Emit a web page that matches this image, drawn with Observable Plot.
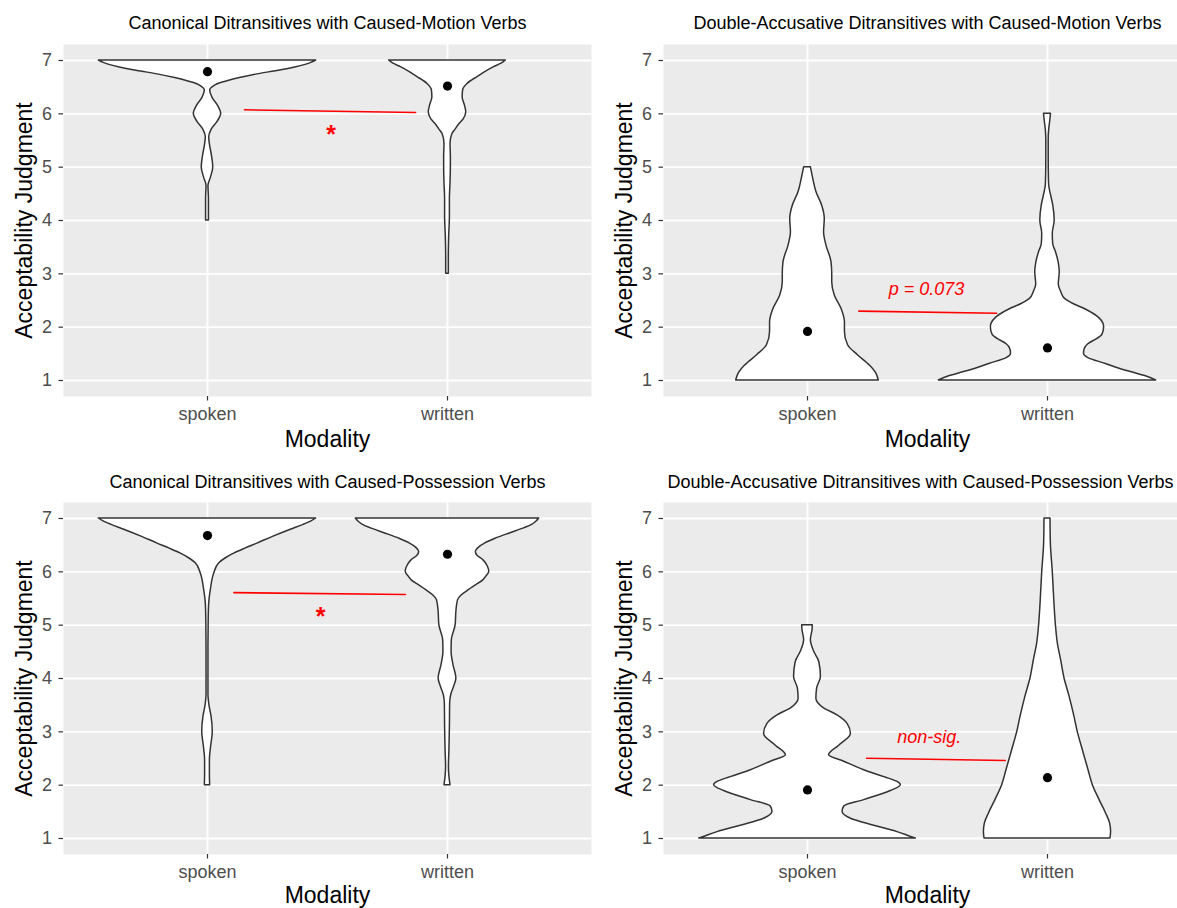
<!DOCTYPE html>
<html>
<head>
<meta charset="utf-8">
<script src="https://cdn.jsdelivr.net/npm/d3@7"></script>
<script src="https://cdn.jsdelivr.net/npm/@observablehq/plot@0.6"></script>
<style>
html, body { margin: 0; padding: 0; background: #ffffff; overflow: hidden; }
#fig { position: relative; width: 1177px; height: 908px; overflow: hidden; background: #ffffff; }
#fig > div { position: absolute; }
#fig svg { max-width: none !important; }
</style>
</head>
<body>
<div id="fig"></div>
<script>
// ---------- data ----------
const modalities = ["spoken", "written"];
const yTicks = [1, 2, 3, 4, 5, 6, 7];
const panelTitles = [
  "Canonical Ditransitives with Caused-Motion Verbs",
  "Double-Accusative Ditransitives with Caused-Motion Verbs",
  "Canonical Ditransitives with Caused-Possession Verbs",
  "Double-Accusative Ditransitives with Caused-Possession Verbs"
];
const xAxisTitle = "Modality";
const yAxisTitle = "Acceptability Judgment";

// violin outlines: [judgment value, half-width in category units]
const cmCanonSpoken = [[7.0,0.453],[6.95,0.43],[6.875,0.37],[6.8,0.285],[6.74,0.208],[6.67,0.135],[6.61,0.083],[6.55,0.04],[6.51,0.025],[6.44,0.011],[6.3,0.021],[6.15,0.044],[6.0,0.057],[5.85,0.042],[5.7,0.017],[5.56,0.007],[5.4,0.011],[5.2,0.019],[5.0,0.024],[4.8,0.014],[4.65,0.004],[4.4,0.006],[4.2,0.006],[4.0,0.006]];
const cmCanonWritten = [[7.0,0.243],[6.94,0.225],[6.875,0.194],[6.75,0.146],[6.69,0.125],[6.56,0.083],[6.44,0.065],[6.31,0.063],[6.15,0.073],[6.03,0.078],[5.9,0.068],[5.81,0.05],[5.7,0.033],[5.625,0.021],[5.44,0.0125],[5.2,0.014],[5.0,0.014],[4.7,0.0125],[4.4,0.01],[4.06,0.01],[3.7,0.007],[3.3,0.0055],[3.0,0.0055]];
const cmDaccSpoken = [[5.0,0.014],[4.78,0.024],[4.53,0.0375],[4.28,0.061],[4.03,0.072],[3.78,0.069],[3.53,0.079],[3.22,0.1],[3.0,0.103],[2.84,0.103],[2.59,0.114],[2.34,0.142],[2.09,0.156],[1.91,0.156],[1.66,0.169],[1.47,0.211],[1.28,0.26],[1.125,0.2875],[1.0,0.297]];
const cmDaccWritten = [[6.0,0.0146],[5.85,0.011],[5.7,0.007],[5.5,0.005],[5.2,0.005],[4.9,0.0055],[4.66,0.007],[4.45,0.016],[4.28,0.024],[4.0,0.03],[3.75,0.022],[3.55,0.024],[3.41,0.035],[3.2,0.047],[3.03,0.051],[2.8,0.047],[2.65,0.058],[2.53,0.073],[2.43,0.11],[2.34,0.155],[2.16,0.218],[2.0,0.236],[1.85,0.228],[1.78,0.208],[1.68,0.17],[1.59,0.155],[1.5,0.152],[1.42,0.17],[1.31,0.243],[1.22,0.3],[1.16,0.347],[1.08,0.41],[1.0,0.453]];
const cpCanonSpoken = [[7.0,0.453],[6.95,0.435],[6.88,0.4],[6.79,0.347],[6.66,0.275],[6.53,0.208],[6.43,0.155],[6.34,0.111],[6.25,0.075],[6.16,0.049],[5.97,0.028],[5.66,0.014],[5.4,0.007],[5.1,0.005],[4.6,0.004],[4.1,0.004],[3.7,0.004],[3.5,0.008],[3.28,0.017],[3.0,0.022],[2.72,0.015],[2.47,0.01],[2.2,0.01],[2.0,0.011]];
const cpCanonWritten = [[7.0,0.382],[6.94,0.37],[6.875,0.35],[6.8,0.31],[6.72,0.26],[6.62,0.2],[6.53,0.156],[6.45,0.13],[6.375,0.118],[6.3,0.125],[6.22,0.149],[6.1,0.168],[6.0,0.174],[5.9,0.16],[5.84,0.149],[5.75,0.12],[5.66,0.09],[5.56,0.06],[5.47,0.044],[5.28,0.0375],[5.0,0.034],[4.72,0.018],[4.5,0.017],[4.25,0.025],[4.0,0.037],[3.85,0.028],[3.7,0.016],[3.53,0.011],[3.09,0.01],[2.66,0.008],[2.34,0.006],[2.16,0.008],[2.0,0.0125]];
const cpDaccSpoken = [[5.0,0.022],[4.91,0.021],[4.72,0.014],[4.5,0.028],[4.31,0.049],[4.03,0.056],[3.81,0.04],[3.62,0.037],[3.44,0.069],[3.31,0.125],[3.15,0.167],[2.96,0.181],[2.74,0.132],[2.56,0.09],[2.44,0.153],[2.28,0.236],[2.15,0.32],[2.06,0.375],[2.0,0.389],[1.89,0.347],[1.72,0.236],[1.6,0.153],[1.5,0.146],[1.37,0.181],[1.24,0.278],[1.12,0.375],[1.02,0.4375],[1.0,0.451]];
const cpDaccWritten = [[7.0,0.0125],[6.53,0.014],[6.0,0.022],[5.4,0.029],[5.0,0.035],[4.66,0.043],[4.34,0.057],[4.0,0.071],[3.66,0.092],[3.28,0.1125],[3.0,0.126],[2.66,0.147],[2.28,0.171],[2.0,0.189],[1.72,0.217],[1.47,0.244],[1.28,0.261],[1.125,0.265],[1.0,0.2625]];

// mean judgments (black dots): [spoken, written]
const meanValues = [[6.79, 6.52], [1.92, 1.61], [6.68, 6.33], [1.91, 2.14]];

// red significance annotations
const sigLineX = [[1.154, 1.867], [1.214, 1.788], [1.11, 1.825], [1.246, 1.824]];
const sigLineY = [[6.076, 6.025], [2.30, 2.26], [5.61, 5.575], [2.506, 2.4625]];
const sigText = ["*", "p = 0.073", "*", "non-sig."];
const sigTextX = [1.515, 1.496, 1.471, 1.5075];
const sigTextY = [5.71, 2.71, 5.26, 2.89];

// ---------- layout ----------
const violinSets = [
  [cmCanonSpoken, cmCanonWritten],
  [cmDaccSpoken, cmDaccWritten],
  [cpCanonSpoken, cpCanonWritten],
  [cpDaccSpoken, cpDaccWritten]
];
const layout = [
  {left: 0,   top: 0,   width: 600, height: 460, ml: 63, mr: 9, mt: 44, mb: 64, titleDy: -21, titleDx: 0,  xTitleDy: 43.3},
  {left: 590, top: 0,   width: 610, height: 460, ml: 73, mr: 9, mt: 44, mb: 64, titleDy: -21, titleDx: 0,  xTitleDy: 43.3},
  {left: 0,   top: 460, width: 600, height: 448, ml: 63, mr: 9, mt: 42, mb: 54, titleDy: -20, titleDx: 0,  xTitleDy: 41.5},
  {left: 590, top: 460, width: 610, height: 448, ml: 73, mr: 9, mt: 42, mb: 54, titleDy: -20, titleDx: -7, xTitleDy: 41.5}
];
const FONT = "'Liberation Sans', Arial, Helvetica, sans-serif";

function makePanel(i) {
  const L = layout[i];
  const rows = [];
  violinSets[i].forEach((arr, j) => arr.forEach(([v, w]) => rows.push({mod: modalities[j], c: j + 1, v, w})));
  const dots = meanValues[i].map((m, j) => ({c: j + 1, m}));
  const seg = [0, 1].map(k => ({x: sigLineX[i][k], y: sigLineY[i][k]}));
  const isStar = sigText[i] === "*";
  return Plot.plot({
    width: L.width,
    height: L.height,
    marginLeft: L.ml,
    marginRight: L.mr,
    marginTop: L.mt,
    marginBottom: L.mb,
    style: {fontFamily: FONT, background: "transparent", color: "black", overflow: "visible", maxWidth: "none"},
    x: {domain: [0.4, 2.6], label: null},
    y: {domain: [0.7, 7.3], label: null},
    marks: [
      Plot.frame({fill: "#ebebeb", stroke: "none"}),
      Plot.gridY({ticks: yTicks, stroke: "white", strokeOpacity: 1, strokeWidth: 1.8}),
      Plot.gridX({ticks: [1, 2], stroke: "white", strokeOpacity: 1, strokeWidth: 1.8}),
      Plot.axisY({ticks: yTicks, tickFormat: d => String(d), tickSize: 4.5, tickPadding: 7, fontSize: 18, color: "#4d4d4d", stroke: "#333333", strokeWidth: 1.2, label: null}),
      Plot.axisX({ticks: [1, 2], tickFormat: d => modalities[d - 1], tickSize: 4.5, tickPadding: 6, fontSize: 18, color: "#4d4d4d", stroke: "#333333", strokeWidth: 1.2, label: null}),
      Plot.areaX(rows, {y: "v", x1: d => d.c - d.w, x2: d => d.c + d.w, z: "mod", fill: "white", stroke: "#333333", strokeWidth: 1.5, curve: "monotone-y"}),
      Plot.dot(dots, {x: "c", y: "m", r: 4.6, fill: "black", stroke: "none"}),
      Plot.line(seg, {x: "x", y: "y", stroke: "#ff0000", strokeWidth: 1.6}),
      Plot.text([sigText[i]], {
        x: () => sigTextX[i], y: () => sigTextY[i], text: d => d, fill: "#ff0000",
        fontSize: isStar ? 25 : 18, fontWeight: isStar ? "bold" : "normal",
        fontStyle: isStar ? "normal" : "italic", dy: isStar ? 6 : 0, lineAnchor: "middle"
      }),
      Plot.text([panelTitles[i]], {frameAnchor: "top", dx: L.titleDx, dy: L.titleDy, lineAnchor: "middle", text: d => d, fontSize: 18, fill: "black"}),
      Plot.text([xAxisTitle], {frameAnchor: "bottom", dy: L.xTitleDy, lineAnchor: "middle", text: d => d, fontSize: 23, fill: "black"}),
      Plot.text([yAxisTitle], {frameAnchor: "left", dx: -38.5, rotate: -90, lineAnchor: "middle", textAnchor: "middle", text: d => d, fontSize: 23, fill: "black"})
    ]
  });
}

const fig = document.getElementById("fig");
layout.forEach((L, i) => {
  const holder = document.createElement("div");
  holder.style.left = L.left + "px";
  holder.style.top = L.top + "px";
  holder.style.width = L.width + "px";
  holder.style.height = L.height + "px";
  holder.appendChild(makePanel(i));
  fig.appendChild(holder);
});
</script>
</body>
</html>
